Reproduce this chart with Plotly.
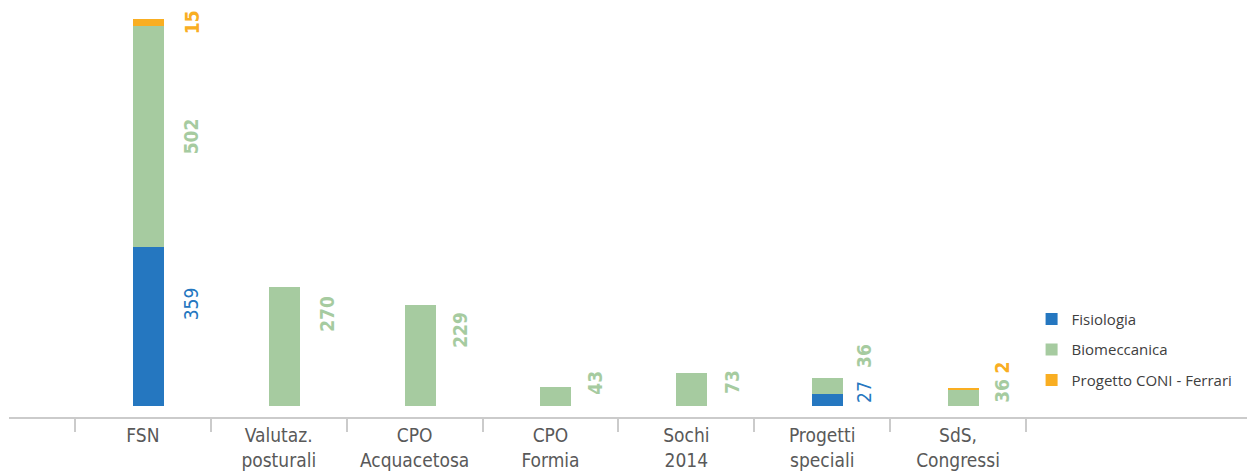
import plotly.graph_objects as go

categories = ["FSN", "Valutaz.<br>posturali", "CPO<br>Acquacetosa", "CPO<br>Formia",
              "Sochi<br>2014", "Progetti<br>speciali", "SdS,<br>Congressi"]
fisiologia = [359, None, None, None, None, 27, None]
biomeccanica = [502, 270, 229, 43, 73, 36, 36]
coni_ferrari = [15, None, None, None, None, None, 2]

series_names = ["Fisiologia", "Biomeccanica", "Progetto CONI - Ferrari"]
series_values = [fisiologia, biomeccanica, coni_ferrari]
colors = ["#2577C0", "#A6CBA0", "#F9AE22"]
label_weights = ["normal", "bold", "bold"]

# pixel nudges for the data labels (style only)
label_xshift = [49, 48, 46, 45, 45, 42, 44]
label_yshift = [
    [23, None, None, None, None, 8, None],
    [0, 32, 25, 14, 8, 30, 7],
    [0, None, None, None, None, None, 22],
]

FONT = "DejaVu Sans Condensed, Liberation Sans Narrow, Roboto, sans-serif"

fig = go.Figure()
for name, vals, col in zip(series_names, series_values, colors):
    fig.add_trace(go.Bar(
        x=categories, y=vals, name=name, marker=dict(color=col, line=dict(width=0)),
        width=0.228, offset=-0.074, legendgroup=name,
    ))

annotations = []
base = [0] * len(categories)
for s, vals in enumerate(series_values):
    for i, v in enumerate(vals):
        if v is None:
            continue
        mid = base[i] + v / 2
        annotations.append(dict(
            x=i, y=mid, xref="x", yref="y", text=str(v), showarrow=False,
            textangle=-90, xshift=label_xshift[i], yshift=label_yshift[s][i],
            font=dict(family=FONT, size=19, color=colors[s],
                      weight=label_weights[s]),
        ))
        base[i] += v

fig.update_layout(
    width=1247, height=472,
    margin=dict(l=9, r=0, t=10, b=55, autoexpand=False),
    plot_bgcolor="white", paper_bgcolor="white",
    barmode="stack",
    showlegend=True,
    legend=dict(x=0.826, y=0.165, xanchor="left", yanchor="middle",
                font=dict(family="Open Sans, Noto Sans, sans-serif", size=15,
                          color="#404040"),
                tracegroupgap=8, bgcolor="rgba(0,0,0,0)"),
    annotations=annotations,
    xaxis=dict(
        type="category", categoryorder="array", categoryarray=categories,
        range=[-0.9856, 8.127], automargin=False,
        showline=True, linecolor="#CBCBCB", linewidth=2,
        ticks="outside", ticklen=13, tickwidth=2, tickcolor="#CBCBCB",
        tickson="boundaries",
        showgrid=False, zeroline=False,
        tickfont=dict(family=FONT, size=19, color="#595959"),
    ),
    yaxis=dict(range=[-25.6, 896.4], visible=False, showgrid=False,
               zeroline=False, automargin=False),
)

fig.write_html("out.html")
